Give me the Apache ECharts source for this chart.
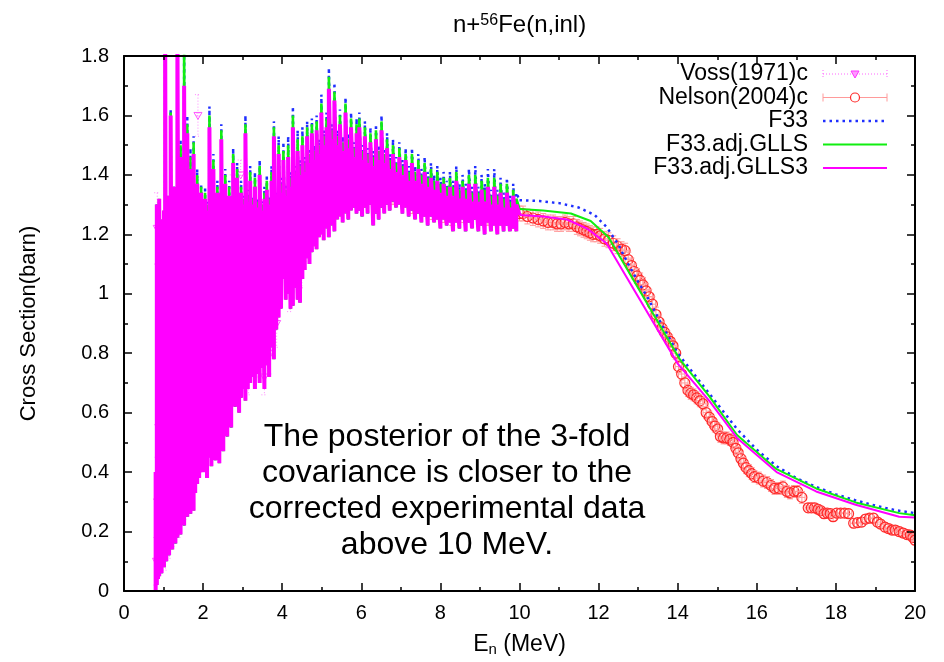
<!DOCTYPE html>
<html>
  <head>
    <meta charset="UTF-8">
    <title>n+56Fe(n,inl)</title>
    <script src="https://cdn.jsdelivr.net/npm/echarts@6/dist/echarts.min.js"></script>
    <style>
    * {
      margin: 0;
      padding: 0;
    }
    </style>
  </head>
  <body>
    <div id="main" style="width: 944px;height: 662px"></div>
    <script>
// axis ranges
var xMin = 0, xMax = 20, xStep = 2
var yMin = 0, yMax = 1.8, yStep = 0.2

// resonance region: [E, lowest, top GLLS3, top GLLS, top F33]
var resRows = [
  [0.80, 0.00, 0.40, 0.40, 0.40], [0.83, 0.02, 1.30, 1.30, 1.30], [0.86, 0.04, 1.15, 1.15, 1.15],
  [0.89, 0.05, 1.32, 1.32, 1.32], [0.92, 0.07, 1.18, 1.18, 1.18], [0.95, 0.06, 1.25, 1.25, 1.25],
  [0.98, 0.09, 1.15, 1.15, 1.15], [1.01, 0.08, 1.28, 1.28, 1.28], [1.04, 0.11, 1.95, 1.95, 1.95],
  [1.07, 0.10, 1.22, 1.22, 1.22], [1.10, 0.13, 1.33, 1.33, 1.33], [1.14, 0.12, 1.20, 1.20, 1.20],
  [1.18, 0.15, 1.60, 1.61, 1.62], [1.22, 0.14, 1.25, 1.25, 1.25], [1.26, 0.17, 1.36, 1.36, 1.36],
  [1.30, 0.16, 1.22, 1.22, 1.22], [1.35, 0.18, 1.95, 1.95, 1.95], [1.39, 0.20, 1.30, 1.31, 1.31],
  [1.43, 0.19, 1.46, 1.50, 1.52], [1.47, 0.23, 1.26, 1.27, 1.27], [1.52, 0.22, 1.70, 1.85, 1.87],
  [1.56, 0.26, 1.38, 1.40, 1.41], [1.60, 0.25, 1.54, 1.57, 1.60], [1.64, 0.28, 1.28, 1.29, 1.30],
  [1.68, 0.26, 1.42, 1.46, 1.49], [1.72, 0.30, 1.30, 1.32, 1.33], [1.76, 0.27, 1.47, 1.51, 1.53],
  [1.80, 0.33, 1.27, 1.28, 1.29], [1.85, 0.36, 1.37, 1.40, 1.42], [1.90, 0.38, 1.22, 1.23, 1.24],
  [1.95, 0.42, 1.34, 1.36, 1.37], [2.00, 0.40, 1.27, 1.28, 1.29], [2.05, 0.44, 1.32, 1.34, 1.36],
  [2.10, 0.38, 1.28, 1.30, 1.31], [2.16, 0.45, 1.56, 1.60, 1.63], [2.21, 0.42, 1.31, 1.33, 1.35],
  [2.26, 0.47, 1.42, 1.45, 1.47], [2.31, 0.44, 1.28, 1.30, 1.31], [2.36, 0.50, 1.34, 1.36, 1.38],
  [2.41, 0.43, 1.27, 1.29, 1.30], [2.46, 0.52, 1.52, 1.55, 1.57], [2.51, 0.47, 1.30, 1.32, 1.34],
  [2.56, 0.55, 1.37, 1.40, 1.42], [2.61, 0.52, 1.29, 1.31, 1.32], [2.66, 0.56, 1.33, 1.36, 1.38],
  [2.71, 0.55, 1.26, 1.28, 1.29], [2.76, 0.63, 1.44, 1.47, 1.49], [2.81, 0.62, 1.30, 1.32, 1.34],
  [2.86, 0.66, 1.39, 1.42, 1.44], [2.91, 0.60, 1.29, 1.31, 1.32], [2.96, 0.65, 1.34, 1.36, 1.38],
  [3.01, 0.68, 1.30, 1.32, 1.33], [3.07, 0.64, 1.54, 1.57, 1.60], [3.13, 0.68, 1.31, 1.33, 1.35],
  [3.19, 0.70, 1.38, 1.41, 1.43], [3.25, 0.72, 1.30, 1.32, 1.33], [3.31, 0.68, 1.36, 1.39, 1.41],
  [3.37, 0.73, 1.29, 1.31, 1.32], [3.43, 0.70, 1.40, 1.43, 1.45], [3.49, 0.75, 1.28, 1.30, 1.31],
  [3.55, 0.68, 1.32, 1.34, 1.36], [3.61, 0.76, 1.35, 1.38, 1.40], [3.67, 0.72, 1.30, 1.32, 1.33],
  [3.73, 0.82, 1.38, 1.41, 1.43], [3.79, 0.78, 1.53, 1.56, 1.58], [3.85, 0.88, 1.31, 1.33, 1.34],
  [3.91, 0.92, 1.47, 1.50, 1.53], [3.97, 0.95, 1.34, 1.37, 1.39], [4.03, 1.05, 1.45, 1.48, 1.51],
  [4.09, 0.98, 1.33, 1.35, 1.37], [4.15, 1.00, 1.46, 1.50, 1.53], [4.21, 0.95, 1.36, 1.39, 1.41],
  [4.27, 0.96, 1.56, 1.60, 1.63], [4.33, 1.02, 1.38, 1.41, 1.43], [4.39, 0.98, 1.48, 1.52, 1.55],
  [4.45, 0.97, 1.40, 1.43, 1.45], [4.51, 1.05, 1.50, 1.53, 1.56], [4.57, 1.08, 1.41, 1.44, 1.46],
  [4.63, 1.12, 1.53, 1.56, 1.58], [4.69, 1.10, 1.44, 1.47, 1.49], [4.75, 1.14, 1.54, 1.57, 1.59],
  [4.81, 1.16, 1.45, 1.48, 1.50], [4.87, 1.15, 1.55, 1.58, 1.60], [4.93, 1.19, 1.47, 1.50, 1.52],
  [4.99, 1.20, 1.61, 1.64, 1.67], [5.05, 1.18, 1.50, 1.53, 1.55], [5.12, 1.22, 1.56, 1.59, 1.61],
  [5.18, 1.19, 1.69, 1.73, 1.76], [5.25, 1.23, 1.52, 1.55, 1.57], [5.32, 1.21, 1.65, 1.68, 1.71],
  [5.39, 1.25, 1.50, 1.53, 1.55], [5.46, 1.26, 1.57, 1.60, 1.62], [5.53, 1.24, 1.48, 1.51, 1.53],
  [5.60, 1.27, 1.61, 1.64, 1.66], [5.67, 1.25, 1.49, 1.52, 1.54], [5.74, 1.28, 1.56, 1.59, 1.61],
  [5.81, 1.29, 1.46, 1.49, 1.51], [5.88, 1.27, 1.54, 1.57, 1.59], [5.95, 1.28, 1.56, 1.59, 1.61],
  [6.02, 1.26, 1.45, 1.48, 1.50], [6.09, 1.29, 1.53, 1.56, 1.58], [6.16, 1.27, 1.44, 1.47, 1.49],
  [6.23, 1.30, 1.51, 1.54, 1.56], [6.30, 1.23, 1.43, 1.46, 1.48], [6.37, 1.27, 1.52, 1.55, 1.57],
  [6.44, 1.25, 1.45, 1.48, 1.50], [6.51, 1.29, 1.55, 1.58, 1.60], [6.58, 1.27, 1.44, 1.47, 1.49],
  [6.65, 1.30, 1.49, 1.52, 1.54], [6.72, 1.28, 1.42, 1.45, 1.47], [6.80, 1.31, 1.47, 1.50, 1.52],
  [6.88, 1.29, 1.41, 1.44, 1.46], [6.96, 1.30, 1.46, 1.49, 1.51], [7.04, 1.27, 1.40, 1.43, 1.45],
  [7.12, 1.29, 1.45, 1.47, 1.49], [7.20, 1.26, 1.38, 1.41, 1.43], [7.28, 1.28, 1.44, 1.47, 1.49],
  [7.36, 1.25, 1.38, 1.41, 1.43], [7.44, 1.27, 1.42, 1.45, 1.47], [7.52, 1.24, 1.37, 1.40, 1.42],
  [7.60, 1.26, 1.41, 1.44, 1.46], [7.68, 1.23, 1.36, 1.39, 1.41], [7.76, 1.26, 1.39, 1.42, 1.44],
  [7.84, 1.24, 1.35, 1.38, 1.40], [7.92, 1.25, 1.38, 1.41, 1.43], [8.00, 1.22, 1.34, 1.37, 1.39],
  [8.08, 1.25, 1.37, 1.39, 1.41], [8.16, 1.23, 1.33, 1.36, 1.38], [8.24, 1.24, 1.36, 1.39, 1.41],
  [8.32, 1.21, 1.33, 1.36, 1.38], [8.40, 1.24, 1.38, 1.41, 1.43], [8.48, 1.22, 1.32, 1.35, 1.37],
  [8.56, 1.25, 1.36, 1.38, 1.40], [8.64, 1.21, 1.32, 1.35, 1.37], [8.72, 1.24, 1.37, 1.40, 1.42],
  [8.80, 1.22, 1.31, 1.34, 1.36], [8.88, 1.25, 1.37, 1.40, 1.43], [8.96, 1.21, 1.31, 1.34, 1.36],
  [9.04, 1.23, 1.35, 1.38, 1.40], [9.12, 1.20, 1.31, 1.35, 1.37], [9.20, 1.24, 1.36, 1.39, 1.42],
  [9.28, 1.21, 1.30, 1.33, 1.35], [9.36, 1.23, 1.36, 1.39, 1.42], [9.44, 1.20, 1.30, 1.33, 1.35],
  [9.52, 1.23, 1.34, 1.37, 1.39], [9.60, 1.21, 1.29, 1.32, 1.34], [9.68, 1.23, 1.34, 1.37, 1.39],
  [9.76, 1.21, 1.29, 1.31, 1.33], [9.84, 1.22, 1.33, 1.35, 1.37], [9.92, 1.21, 1.30, 1.32, 1.34]
]

// smooth part above 10 MeV
var f33Tail = [
  [10.0, 1.315], [10.5, 1.312], [11.0, 1.305], [11.5, 1.29], [11.9, 1.265], [12.2, 1.225],
  [12.5, 1.165], [12.75, 1.10], [13.0, 1.04], [13.25, 0.985], [13.5, 0.92], [13.75, 0.86],
  [14.0, 0.80], [14.5, 0.715], [15.0, 0.63], [15.5, 0.545], [16.0, 0.475], [16.5, 0.42],
  [17.0, 0.38], [17.5, 0.35], [18.0, 0.325], [18.5, 0.305], [19.0, 0.287], [19.5, 0.272], [20.0, 0.262]
]
var gllsTail = [
  [10.0, 1.285], [10.6, 1.28], [11.3, 1.27], [11.8, 1.245], [12.25, 1.19], [14.05, 0.78],
  [14.8, 0.655], [15.5, 0.525], [16.5, 0.41], [17.5, 0.345], [18.5, 0.298], [19.6, 0.262], [20.0, 0.255]
]
var glls3Tail = [
  [10.0, 1.265], [10.6, 1.26], [11.2, 1.25], [11.7, 1.22], [12.2, 1.17], [14.0, 0.765],
  [14.8, 0.64], [15.5, 0.515], [16.5, 0.40], [17.5, 0.335], [18.5, 0.29], [19.6, 0.25], [20.0, 0.247]
]

// Voss(1971)c : [E, sigma, error]
var vossData = [
  [0.82, 0.10, 0.08], [0.84, 1.22, 0.12], [0.85, 0.30, 0.15], [0.88, 0.55, 0.20], [0.93, 0.20, 0.06],
  [0.97, 0.14, 0.05], [1.00, 0.45, 0.12], [1.05, 0.12, 0.05], [1.10, 0.22, 0.06], [1.15, 0.16, 0.05],
  [1.20, 0.35, 0.10], [1.25, 0.20, 0.05], [1.32, 0.26, 0.08], [1.40, 0.24, 0.06], [1.48, 0.40, 0.10],
  [1.55, 0.32, 0.08], [1.63, 0.60, 0.12], [1.70, 0.38, 0.08], [1.78, 0.70, 0.12], [1.87, 1.60, 0.07],
  [1.95, 0.50, 0.10], [2.05, 0.90, 0.12], [2.15, 0.55, 0.10], [2.25, 1.10, 0.12], [2.35, 0.62, 0.10],
  [2.45, 1.20, 0.10], [2.55, 0.66, 0.08], [2.65, 1.00, 0.10], [2.75, 1.30, 0.10], [2.85, 0.72, 0.08],
  [2.95, 1.40, 0.05], [3.05, 0.95, 0.10], [3.15, 0.74, 0.08], [3.25, 1.15, 0.10], [3.35, 0.80, 0.08],
  [3.45, 1.30, 0.08], [3.55, 0.72, 0.06], [3.63, 0.86, 0.08], [3.70, 0.80, 0.07], [3.78, 0.92, 0.06],
  [3.86, 0.90, 0.08], [3.94, 1.05, 0.08], [4.05, 1.20, 0.08], [4.20, 1.02, 0.08], [4.35, 1.30, 0.07],
  [4.50, 1.10, 0.08], [4.65, 1.35, 0.07], [4.80, 1.25, 0.07]
]
var vossDE = 0.03

// Nelson(2004)c : [E, sigma, error]
var nelsonData = [
  [4.33, 1.10, 0.03], [4.45, 1.33, 0.03], [5.00, 1.36, 0.03], [5.64, 1.32, 0.03], [6.20, 1.34, 0.03],
  [6.80, 1.33, 0.03], [7.30, 1.30, 0.03], [7.80, 1.28, 0.03], [8.10, 1.27, 0.03], [8.30, 1.26, 0.03],
  [8.45, 1.29, 0.03], [8.60, 1.27, 0.03], [8.80, 1.28, 0.03], [9.00, 1.27, 0.03], [9.20, 1.26, 0.03],
  [9.40, 1.27, 0.03], [9.60, 1.26, 0.03], [9.80, 1.25, 0.03], [10.00, 1.27, 0.025], [10.09, 1.27, 0.025],
  [10.20, 1.26, 0.025], [10.34, 1.255, 0.025], [10.47, 1.25, 0.025], [10.60, 1.245, 0.025], [10.72, 1.24, 0.025],
  [10.85, 1.24, 0.025], [10.95, 1.235, 0.025], [11.05, 1.235, 0.025], [11.15, 1.24, 0.025], [11.25, 1.235, 0.025],
  [11.36, 1.235, 0.025], [11.45, 1.225, 0.025], [11.53, 1.22, 0.025], [11.62, 1.215, 0.025], [11.70, 1.21, 0.025],
  [11.78, 1.205, 0.025], [11.86, 1.20, 0.025], [11.95, 1.20, 0.025], [12.04, 1.195, 0.025], [12.15, 1.185, 0.025],
  [12.25, 1.18, 0.025], [12.37, 1.17, 0.025], [12.48, 1.16, 0.025], [12.58, 1.15, 0.025], [12.67, 1.145, 0.025],
  [12.75, 1.115, 0.025], [12.83, 1.095, 0.025], [12.90, 1.075, 0.025], [12.97, 1.06, 0.025], [13.05, 1.045, 0.025],
  [13.12, 1.03, 0.025], [13.20, 1.01, 0.025], [13.28, 0.99, 0.025], [13.36, 0.965, 0.025], [13.45, 0.93, 0.025],
  [13.53, 0.905, 0.02], [13.60, 0.885, 0.02], [13.67, 0.87, 0.02], [13.74, 0.855, 0.02], [13.81, 0.84, 0.02],
  [13.88, 0.825, 0.02], [13.95, 0.80, 0.02], [14.02, 0.755, 0.02], [14.10, 0.73, 0.02], [14.18, 0.70, 0.02],
  [14.26, 0.675, 0.02], [14.33, 0.665, 0.02], [14.40, 0.66, 0.02], [14.48, 0.65, 0.02], [14.56, 0.64, 0.02],
  [14.64, 0.63, 0.02], [14.72, 0.60, 0.02], [14.80, 0.585, 0.02], [14.87, 0.57, 0.02], [14.94, 0.555, 0.02],
  [15.01, 0.545, 0.02], [15.08, 0.52, 0.02], [15.16, 0.515, 0.02], [15.24, 0.515, 0.02], [15.32, 0.51, 0.02],
  [15.40, 0.50, 0.02], [15.47, 0.48, 0.02], [15.53, 0.465, 0.02], [15.60, 0.445, 0.02], [15.66, 0.43, 0.02],
  [15.73, 0.415, 0.02], [15.80, 0.405, 0.02], [15.87, 0.395, 0.02], [15.94, 0.385, 0.02], [16.05, 0.38, 0.02],
  [16.16, 0.37, 0.02], [16.26, 0.365, 0.02], [16.36, 0.355, 0.02], [16.45, 0.345, 0.02], [16.56, 0.345, 0.02],
  [16.66, 0.35, 0.02], [16.76, 0.335, 0.02], [16.84, 0.33, 0.02], [16.94, 0.335, 0.02], [17.03, 0.335, 0.02],
  [17.14, 0.315, 0.02], [17.30, 0.28, 0.015], [17.38, 0.28, 0.015], [17.46, 0.28, 0.015], [17.55, 0.275, 0.015],
  [17.62, 0.27, 0.015], [17.70, 0.26, 0.015], [17.78, 0.262, 0.015], [17.86, 0.26, 0.015], [17.93, 0.25, 0.015],
  [18.02, 0.262, 0.015], [18.12, 0.262, 0.015], [18.22, 0.262, 0.015], [18.32, 0.26, 0.015], [18.45, 0.228, 0.015],
  [18.55, 0.23, 0.015], [18.65, 0.232, 0.015], [18.75, 0.242, 0.015], [18.85, 0.245, 0.015], [18.95, 0.245, 0.015],
  [19.05, 0.232, 0.015], [19.13, 0.225, 0.015], [19.24, 0.215, 0.015], [19.33, 0.21, 0.015], [19.42, 0.205, 0.015],
  [19.50, 0.205, 0.015], [19.60, 0.20, 0.015], [19.70, 0.195, 0.015], [19.80, 0.19, 0.015], [19.88, 0.188, 0.015],
  [19.95, 0.18, 0.015], [20.00, 0.171, 0.015]
]
var nelsonDE = 0.08

var seriesNames = ['Voss(1971)c', 'Nelson(2004)c', 'F33', 'F33.adj.GLLS', 'F33.adj.GLLS3']
var note = 'The posterior of the 3-fold\ncovariance is closer to the\ncorrected experimental data\nabove 10 MeV.'

var font = '"Liberation Sans", Arial, sans-serif'
var pink = '#ff66ff'
var red = '#ff2a2a'
var redBar = '#ff9a9a'
var blue = '#1f2fff'
var green = '#11ee11'
var magenta = '#ff00ff'

// each resonance drawn as a vertical stroke low -> top, then joined to the smooth part
function zigzag(col, tail) {
  var out = []
  resRows.forEach(function (r) {
    out.push([r[0], r[1]], [r[0], r[col]])
  })
  out.push(tail[0])
  return out
}

function errorBar(color, barColor, dash, dE, marker) {
  return function (params, api) {
    var e = api.value(0), s = api.value(1), d = api.value(2)
    var c = api.coord([e, s])
    var l = api.coord([e - dE, s])
    var r = api.coord([e + dE, s])
    var t = api.coord([e, s + d])
    var b = api.coord([e, s - d])
    var bar = { stroke: barColor, lineWidth: 1, lineDash: dash }
    var kids = [
      { type: 'line', shape: { x1: l[0], y1: c[1], x2: r[0], y2: c[1] }, style: bar },
      { type: 'line', shape: { x1: c[0], y1: t[1], x2: c[0], y2: b[1] }, style: bar },
      { type: 'line', shape: { x1: l[0], y1: c[1] - 3, x2: l[0], y2: c[1] + 3 }, style: bar },
      { type: 'line', shape: { x1: r[0], y1: c[1] - 3, x2: r[0], y2: c[1] + 3 }, style: bar },
      { type: 'line', shape: { x1: c[0] - 3, y1: t[1], x2: c[0] + 3, y2: t[1] }, style: bar },
      { type: 'line', shape: { x1: c[0] - 3, y1: b[1], x2: c[0] + 3, y2: b[1] }, style: bar }
    ]
    if (marker === 'circle') {
      kids.push({ type: 'circle', shape: { cx: c[0], cy: c[1], r: 5 },
        style: { fill: 'none', stroke: color, lineWidth: 1.2 } })
    } else {
      kids.push({ type: 'polygon', shape: { points: [[c[0] - 4, c[1] - 3], [c[0] + 4, c[1] - 3], [c[0], c[1] + 4]] },
        style: { fill: 'none', stroke: color, lineWidth: 1 } })
    }
    return { type: 'group', children: kids }
  }
}

// legend rows drawn as graphics
var legendY = [74, 97.5, 121, 144.5, 168]
var lx1 = 823, lx2 = 887, lxm = 855, ltx = 808
var legendGraphics = []
seriesNames.forEach(function (name, i) {
  legendGraphics.push({ type: 'text', x: ltx, y: legendY[i],
    style: { text: name, textAlign: 'right', textVerticalAlign: 'middle', font: '23px ' + font, fill: '#000' } })
})
function capLine(y, color, dash) {
  var st = { stroke: color, lineWidth: 1, lineDash: dash }
  return [
    { type: 'line', shape: { x1: lx1, y1: y, x2: lx2, y2: y }, style: st },
    { type: 'line', shape: { x1: lx1, y1: y - 4, x2: lx1, y2: y + 4 }, style: st },
    { type: 'line', shape: { x1: lx2, y1: y - 4, x2: lx2, y2: y + 4 }, style: st }
  ]
}
legendGraphics = legendGraphics.concat(capLine(legendY[0], pink, [1, 2]))
legendGraphics.push({ type: 'polygon',
  shape: { points: [[lxm - 4, legendY[0] - 3], [lxm + 4, legendY[0] - 3], [lxm, legendY[0] + 4]] },
  style: { fill: '#ff99ff', stroke: '#ff33ff', lineWidth: 1 } })
legendGraphics = legendGraphics.concat(capLine(legendY[1], redBar, null))
legendGraphics.push({ type: 'circle', shape: { cx: lxm, cy: legendY[1], r: 4.5 },
  style: { fill: '#fff', stroke: red, lineWidth: 1.2 } })
legendGraphics.push({ type: 'line', shape: { x1: lx1, y1: legendY[2], x2: lx2, y2: legendY[2] },
  style: { stroke: blue, lineWidth: 2.5, lineDash: [2.5, 4] } })
legendGraphics.push({ type: 'line', shape: { x1: lx1, y1: legendY[3], x2: lx2, y2: legendY[3] },
  style: { stroke: green, lineWidth: 2 } })
legendGraphics.push({ type: 'line', shape: { x1: lx1, y1: legendY[4], x2: lx2, y2: legendY[4] },
  style: { stroke: magenta, lineWidth: 2 } })

legendGraphics.push({ type: 'text', x: 447, y: 419,
  style: { text: note, textAlign: 'center', textVerticalAlign: 'top', font: '32px ' + font,
    lineHeight: 36, fill: '#000' } })

function valueAxis(pos, min, max, step, showLabel) {
  return {
    type: 'value', position: pos, min: min, max: max, interval: step, z: 5,
    splitLine: { show: false },
    axisLine: { show: true, onZero: false, lineStyle: { color: '#000', width: 2 } },
    axisTick: { show: true, inside: true, length: 8, lineStyle: { color: '#000', width: 1.5 } },
    minorTick: { show: true, splitNumber: 2, length: 4, lineStyle: { color: '#000', width: 1.5 } },
    axisLabel: { show: showLabel, color: '#000', fontSize: 20, fontFamily: font, margin: 12 }
  }
}

var xBottom = valueAxis('bottom', xMin, xMax, xStep, true)
xBottom.name = 'E{sub|n} (MeV)'
xBottom.nameLocation = 'middle'
xBottom.nameGap = 42
xBottom.nameTextStyle = { color: '#000', fontSize: 23, fontFamily: font,
  rich: { sub: { fontSize: 15, fontFamily: font, color: '#000', verticalAlign: 'bottom', padding: [9, 0, 0, 0] } } }
var yLeft = valueAxis('left', yMin, yMax, yStep, true)
yLeft.name = 'Cross Section(barn)'
yLeft.nameLocation = 'middle'
yLeft.nameGap = 84
yLeft.nameTextStyle = { color: '#000', fontSize: 22, fontFamily: font }
yLeft.axisLabel.margin = 15

function modelSeries(name, data, color, width, type) {
  return { name: name, type: 'line', z: 3, showSymbol: false, symbol: 'none', clip: true, data: data,
    lineStyle: { color: color, width: width, type: type, join: 'bevel' } }
}

var myChart = echarts.init(document.getElementById('main'))
myChart.setOption({
  backgroundColor: '#fff',
  animation: false,
  title: {
    text: 'n+{sup|56}Fe(n,inl)',
    left: 448, top: 8,
    textStyle: { fontSize: 24, fontWeight: 'normal', color: '#000', fontFamily: font,
      rich: { sup: { fontSize: 16, color: '#000', fontFamily: font, verticalAlign: 'top', padding: [0, 0, 9, 0] } } }
  },
  grid: { left: 124, right: 29, top: 56, bottom: 71 },
  xAxis: [xBottom, valueAxis('top', xMin, xMax, xStep, false)],
  yAxis: [yLeft, valueAxis('right', yMin, yMax, yStep, false)],
  graphic: legendGraphics,
  series: [
    { name: seriesNames[0], type: 'custom', z: 1, clip: true, data: vossData,
      renderItem: errorBar('#ff55ff', '#ff88ff', [1, 2], vossDE, 'triangle') },
    { name: seriesNames[1], type: 'custom', z: 1, clip: true, data: nelsonData,
      renderItem: errorBar(red, redBar, null, nelsonDE, 'circle') },
    modelSeries(seriesNames[2], zigzag(4, f33Tail), blue, 2.5, [2.5, 4]),
    modelSeries(seriesNames[2], f33Tail, blue, 2.5, [2.5, 4]),
    modelSeries(seriesNames[3], zigzag(3, gllsTail), green, 2.6, 'solid'),
    modelSeries(seriesNames[3], gllsTail, green, 2, 'solid'),
    modelSeries(seriesNames[4], zigzag(2, glls3Tail), magenta, 4, 'solid'),
    modelSeries(seriesNames[4], glls3Tail, magenta, 2, 'solid')
  ]
})
    </script>
  </body>
</html>
